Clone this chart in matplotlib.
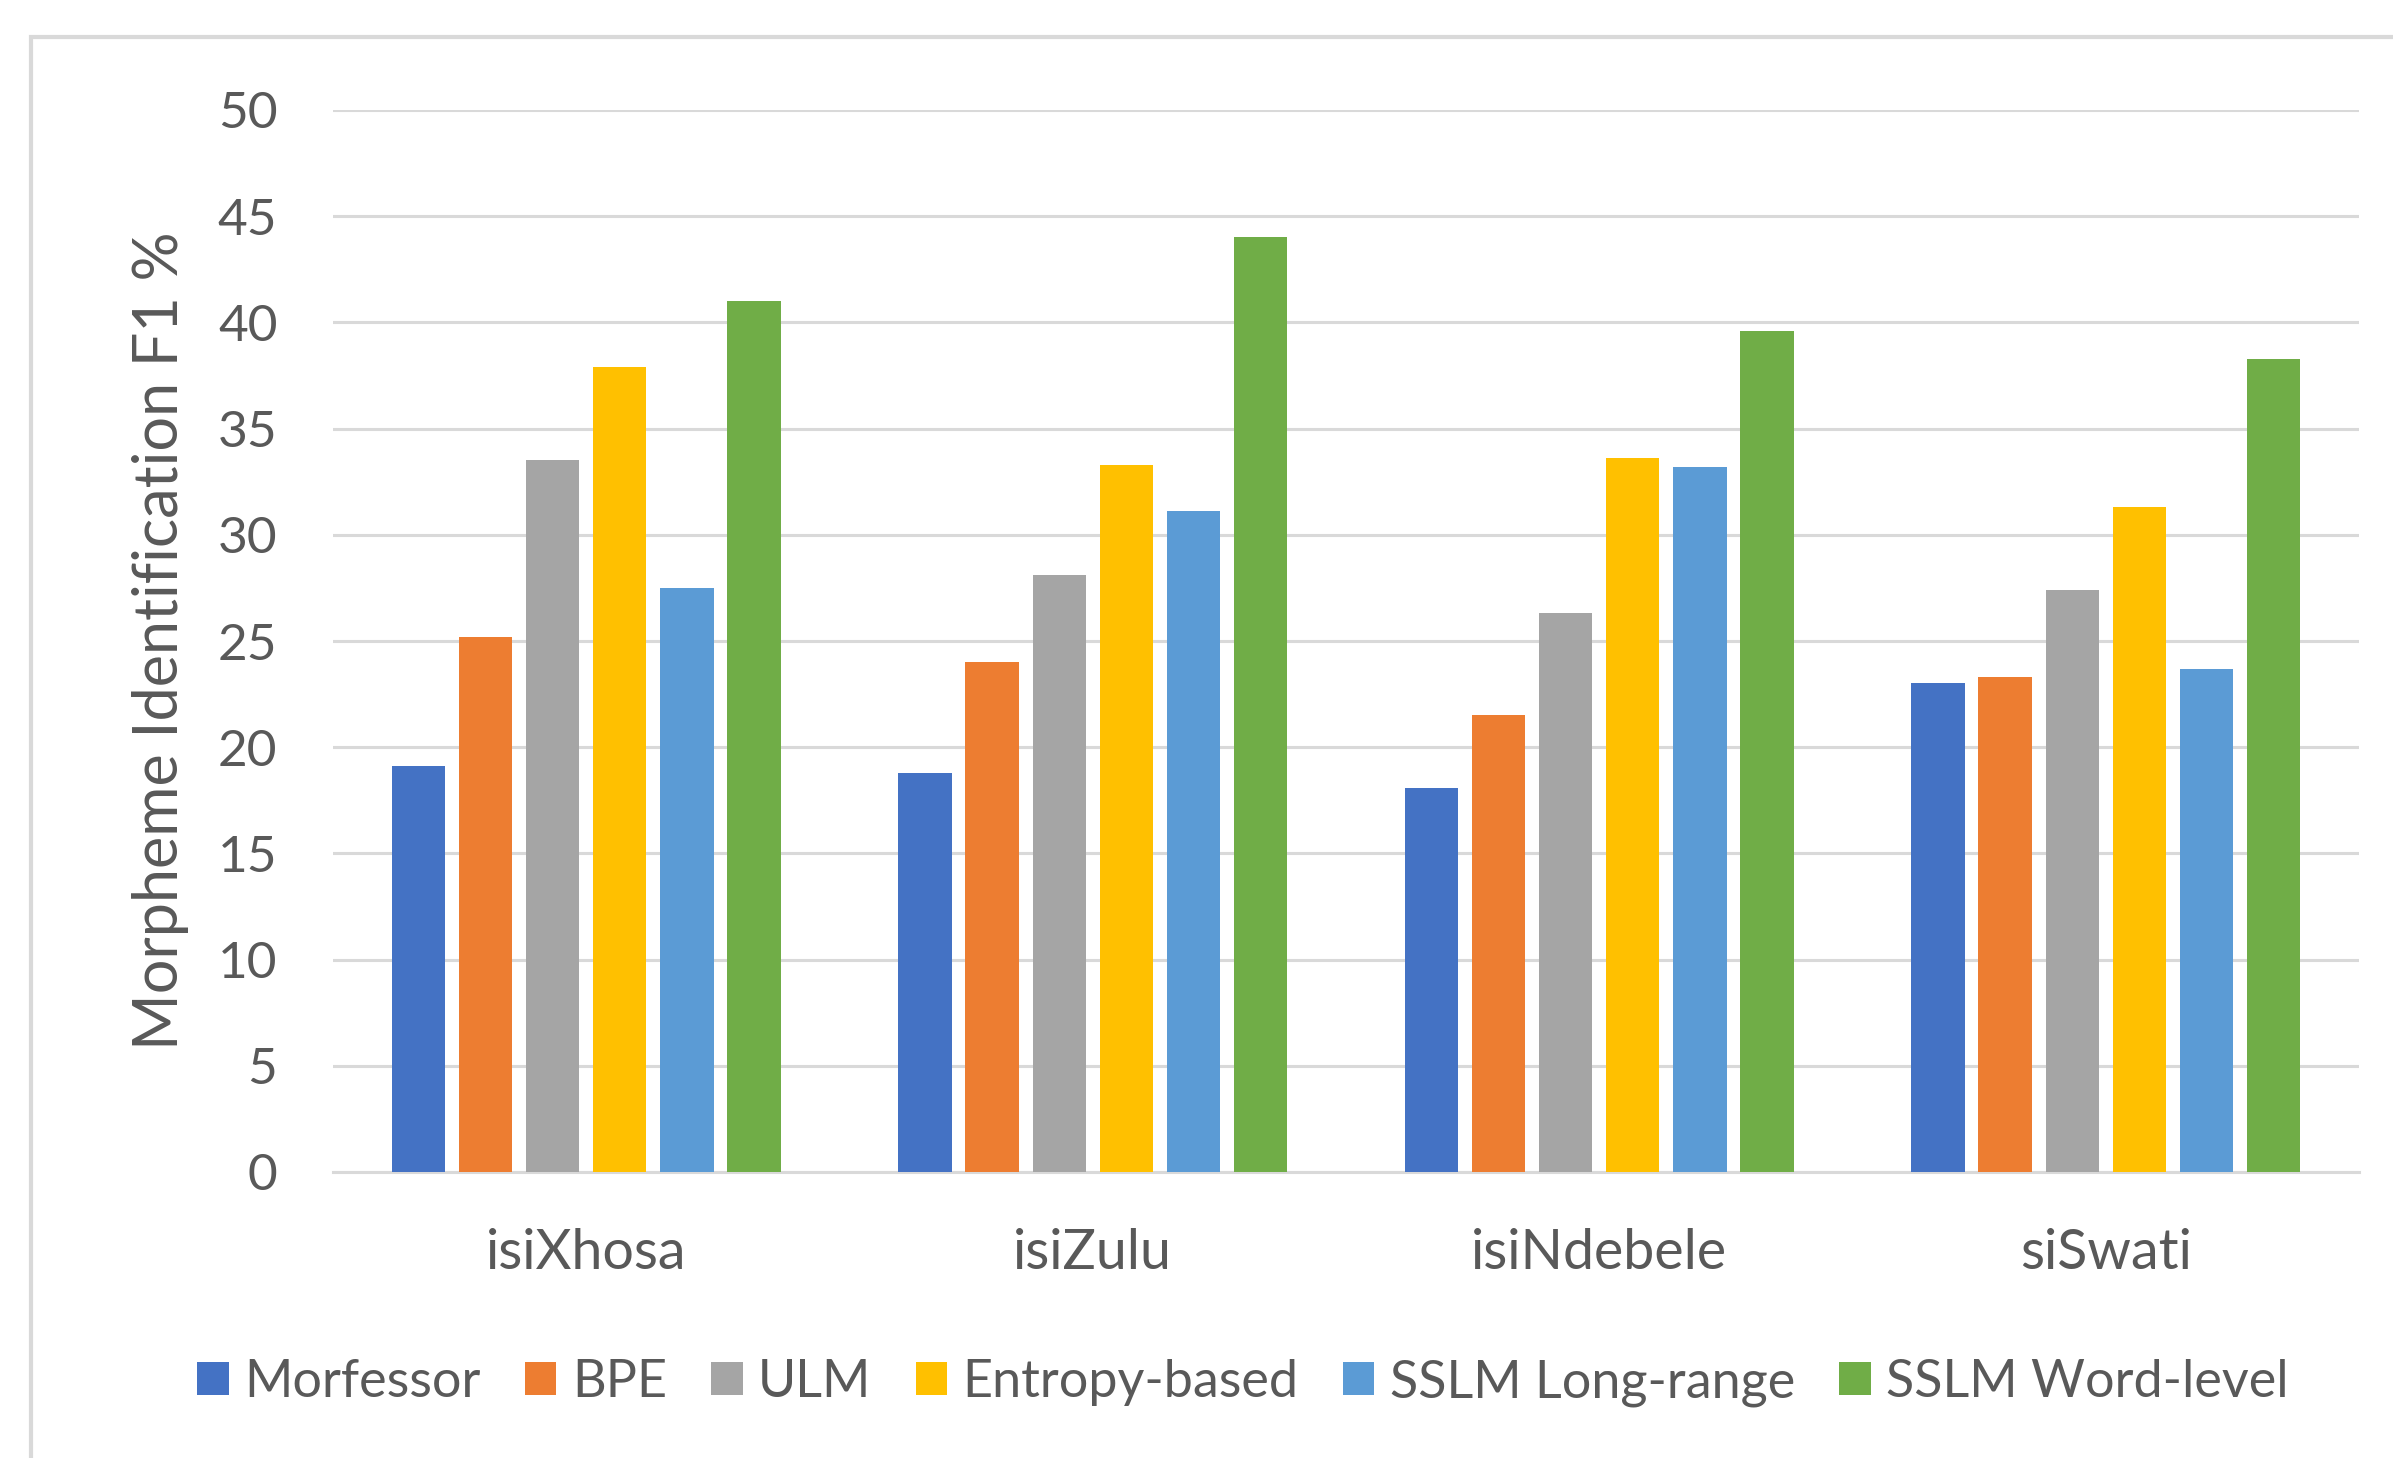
import matplotlib
matplotlib.use("Agg")
import matplotlib.pyplot as plt
import numpy as np
from matplotlib.patches import Rectangle

plt.rcParams['font.family'] = ['Lato', 'DejaVu Sans']

languages = ['isiXhosa', 'isiZulu', 'isiNdebele', 'siSwati']
methods = ['Morfessor', 'BPE', 'ULM', 'Entropy-based', 'SSLM Long-range', 'SSLM Word-level']
colors = ['#4472C4', '#ED7D31', '#A5A5A5', '#FFC000', '#5B9BD5', '#70AD47']

morfessor = [19.1, 18.8, 18.1, 23.0]
bpe = [25.2, 24.0, 21.5, 23.3]
ulm = [33.5, 28.1, 26.3, 27.4]
entropy = [37.9, 33.3, 33.6, 31.3]
sslm_long = [27.5, 31.1, 33.2, 23.7]
sslm_word = [41.0, 44.0, 39.6, 38.3]

series = [morfessor, bpe, ulm, entropy, sslm_long, sslm_word]

text_col = '#595959'
grid_col = '#D9D9D9'

fig = plt.figure(figsize=(23.93, 14.58), dpi=100)
ax = fig.add_axes([333/2393, 1 - 1172/1458, (2359 - 333)/2393, (1172 - 110)/1458])

x = np.arange(len(languages))
pitch = 0.1325
width = 0.105
for i, (vals, name) in enumerate(zip(series, methods)):
    off = (i - 2.5) * pitch
    ax.bar(x + off, vals, width, color=colors[i], label=name, zorder=3)

ax.set_xlim(-0.5, 3.5)
ax.set_ylim(0, 50)
ax.set_yticks(range(0, 51, 5))
ax.set_xticks(x)
ax.set_xticklabels(languages)
ax.grid(axis='y', color=grid_col, linewidth=2.2, zorder=0)
for s in ['top', 'right', 'left']:
    ax.spines[s].set_visible(False)
ax.spines['bottom'].set_color(grid_col)
ax.spines['bottom'].set_linewidth(2.2)
ax.tick_params(axis='both', length=0, colors=text_col)
ax.tick_params(axis='y', pad=40, labelsize=37)
ax.tick_params(axis='x', pad=40, labelsize=40)

fig.text(161/2393, 1 - 641/1458, 'Morpheme Identification F1 %', rotation=90,
         ha='center', va='center', fontsize=44, color=text_col)

leg = fig.legend(loc='center', bbox_to_anchor=(0.5195, 1 - 1383/1458), ncol=6,
                 frameon=False, fontsize=37.5, handlelength=0.6, handleheight=0.6,
                 handletextpad=0.3, columnspacing=0.85)
for t in leg.get_texts():
    t.set_color(text_col)

fig.patches.append(Rectangle((31/2393, -0.1), 1.2, 1 - 37/1458 + 0.1,
                             transform=fig.transFigure, fill=False,
                             edgecolor=grid_col, linewidth=3))

fig.savefig('out.png', dpi=100)
